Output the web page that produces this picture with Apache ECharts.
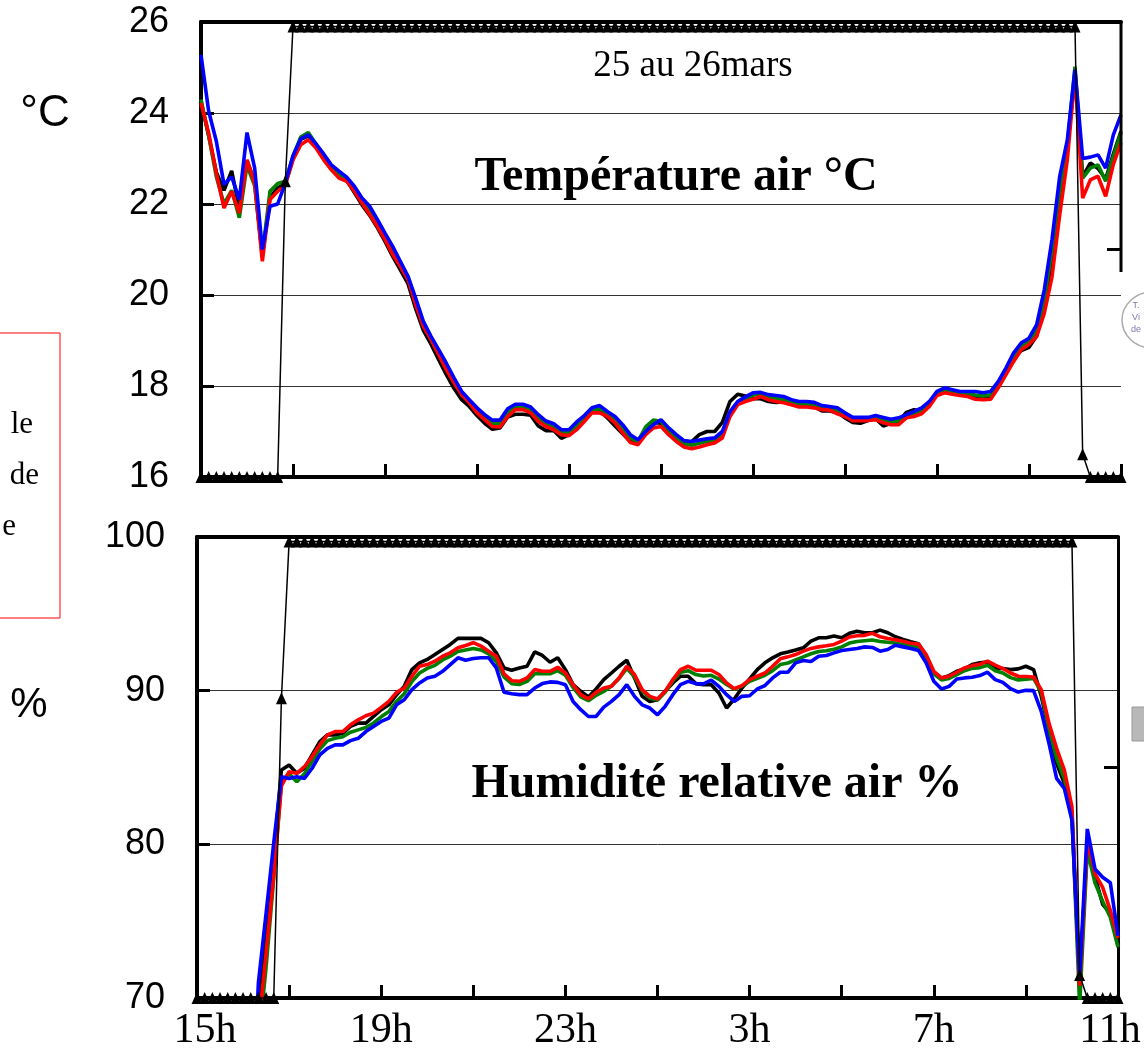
<!DOCTYPE html>
<html>
<head>
<meta charset="utf-8">
<title>Température et humidité air</title>
<script src="https://cdn.jsdelivr.net/npm/echarts/dist/echarts.min.js"></script>
<style>
  html, body { margin: 0; padding: 0; background: #fff; }
  .chart { width: 1144px; height: 1056px; }
</style>
</head>
<body>
<div class="chart"></div>
<script>
// pas de 10 minutes, heures depuis 15h (0 -> 15h, 20 -> 11h)
let times = []
for (let k = 0; k <= 120; k++) {
  times.push(k / 6)
}

let xTickLabels = ['15h', '19h', '23h', '3h', '7h', '11h']

// température air (°C)
let tempBlack = [24.25,23.5,22.7,22.3,22.73,21.9,22.95,22.5,20.85,22.15,22.35,22.45,23.0,23.42,23.5,23.28,23.02,22.8,22.6,22.52,
  22.25,21.98,21.75,21.48,21.18,20.85,20.55,20.25,19.7,19.22,18.92,18.58,18.25,17.95,17.7,17.55,17.35,17.18,17.05,17.08,
  17.32,17.38,17.38,17.36,17.12,17.02,17.02,16.85,16.93,17.1,17.25,17.45,17.45,17.3,17.12,16.95,16.78,16.78,17.05,17.2,
  17.18,16.95,16.82,16.72,16.78,16.93,17.0,17.0,17.2,17.66,17.82,17.78,17.72,17.72,17.66,17.64,17.65,17.6,17.56,17.56,
  17.54,17.45,17.45,17.42,17.3,17.2,17.18,17.24,17.28,17.12,17.18,17.22,17.42,17.48,17.45,17.6,17.82,17.88,17.85,17.82,
  17.8,17.76,17.74,17.78,18.02,18.3,18.6,18.78,18.85,19.1,19.8,20.8,22.0,23.2,24.9,22.6,22.9,22.78,22.55,23.1,23.6]
let tempGreen = [24.3,23.5,22.6,22.0,22.3,21.7,22.85,22.4,20.9,22.28,22.45,22.5,23.05,23.47,23.57,23.32,23.04,22.8,22.63,22.53,
  22.3,22.06,21.85,21.58,21.3,20.98,20.7,20.4,19.86,19.37,19.06,18.74,18.43,18.12,17.85,17.66,17.47,17.31,17.18,17.18,
  17.42,17.55,17.55,17.48,17.3,17.17,17.1,16.98,16.97,17.12,17.28,17.46,17.5,17.4,17.27,17.07,16.86,16.78,17.1,17.25,
  17.22,17.0,16.86,16.74,16.7,16.74,16.78,16.81,16.94,17.4,17.64,17.72,17.8,17.82,17.76,17.73,17.71,17.65,17.6,17.6,
  17.58,17.52,17.51,17.46,17.37,17.28,17.27,17.28,17.3,17.26,17.22,17.23,17.34,17.4,17.46,17.6,17.84,17.91,17.88,17.84,
  17.83,17.8,17.78,17.8,18.04,18.33,18.64,18.88,18.98,19.2,19.9,21.0,22.3,23.3,25.02,22.57,22.79,22.86,22.5,23.05,23.56]
let tempRed = [24.22,23.56,22.68,21.91,22.28,21.8,22.97,22.46,20.74,22.1,22.28,22.42,22.97,23.3,23.41,23.23,22.97,22.75,22.57,22.5,
  22.28,22.02,21.77,21.51,21.22,20.89,20.63,20.34,19.79,19.31,19.02,18.69,18.36,18.07,17.81,17.63,17.41,17.26,17.11,17.1,
  17.33,17.48,17.48,17.41,17.22,17.11,17.04,16.93,16.91,17.04,17.22,17.41,17.41,17.33,17.19,16.97,16.76,16.71,16.93,17.08,
  17.11,16.93,16.78,16.66,16.62,16.66,16.71,16.75,16.86,17.33,17.59,17.66,17.71,17.77,17.7,17.66,17.63,17.59,17.54,17.54,
  17.52,17.48,17.47,17.39,17.33,17.24,17.24,17.24,17.26,17.19,17.15,17.15,17.3,17.33,17.39,17.55,17.79,17.85,17.82,17.79,
  17.77,17.71,17.7,17.71,17.96,18.25,18.54,18.8,18.91,19.09,19.6,20.4,21.75,22.97,24.85,22.13,22.53,22.61,22.17,22.87,23.35]
let tempBlue = [25.28,24.04,23.38,22.43,22.6,22.1,23.57,22.79,21.0,21.95,22.0,22.46,23.06,23.43,23.52,23.32,23.1,22.86,22.72,22.59,
  22.39,22.13,21.95,21.66,21.36,21.07,20.74,20.41,19.93,19.42,19.09,18.8,18.5,18.18,17.88,17.7,17.52,17.37,17.25,17.25,
  17.5,17.6,17.6,17.54,17.37,17.23,17.17,17.04,17.04,17.21,17.35,17.52,17.57,17.44,17.33,17.15,16.93,16.82,17.0,17.15,
  17.26,17.08,16.93,16.8,16.78,16.81,16.84,16.86,17.0,17.44,17.66,17.76,17.85,17.86,17.81,17.79,17.77,17.7,17.66,17.66,
  17.64,17.57,17.55,17.52,17.41,17.31,17.31,17.31,17.35,17.31,17.27,17.3,17.37,17.44,17.52,17.66,17.88,17.96,17.92,17.88,
  17.88,17.88,17.85,17.88,18.1,18.4,18.73,18.95,19.05,19.35,20.12,21.22,22.6,23.41,24.95,23.0,23.03,23.08,22.79,23.52,23.96]

// humidité relative air (%)
let humBlack = [60,60,60,60,60,60,60,60,69.0,74.0,79.3,84.84,85.16,84.62,84.95,85.82,86.69,87.12,87.12,87.23,
  87.67,87.89,87.89,88.32,88.76,89.08,89.74,90.28,91.37,91.81,92.03,92.35,92.68,93.01,93.4,93.4,93.4,93.4,93.12,92.46,
  91.48,91.33,91.48,91.59,92.53,92.29,91.85,92.14,91.37,90.39,89.96,89.59,90.11,90.72,91.15,91.59,91.98,90.83,89.63,89.3,
  89.41,89.96,90.5,90.94,90.94,90.46,90.39,90.39,89.85,88.87,89.46,90.17,90.76,91.37,91.81,92.14,92.4,92.51,92.64,92.79,
  93.22,93.44,93.44,93.55,93.44,93.73,93.86,93.77,93.77,93.94,93.77,93.51,93.33,93.18,93.05,92.29,91.15,90.83,90.98,91.26,
  91.42,91.7,91.81,91.87,91.48,91.44,91.37,91.42,91.59,91.37,89.63,87.45,85.27,83.97,81.79,71.0,80.0,77.9,76.1,75.5,73.5]
let humGreen = [60,60,60,60,60,60,60,60,67.0,72.0,77.8,84.1,84.6,84.07,84.6,85.4,86.2,86.75,86.9,87.0,
  87.3,87.45,87.6,87.9,88.3,88.65,89.3,89.8,90.6,91.15,91.45,91.65,92.0,92.25,92.55,92.65,92.75,92.65,92.4,91.9,
  90.9,90.45,90.4,90.6,91.1,91.1,91.1,91.3,91.0,90.2,89.6,89.35,89.7,89.95,90.3,90.8,91.45,90.9,90.0,89.5,
  89.4,89.9,90.65,91.2,91.3,91.05,90.95,91.0,90.75,90.4,90.1,90.3,90.6,90.8,91.0,91.3,91.7,91.8,92.0,92.2,
  92.4,92.55,92.6,92.7,92.85,93.1,93.2,93.25,93.3,93.2,93.15,93.1,93.0,92.9,92.85,92.2,91.1,90.7,90.8,91.05,
  91.3,91.45,91.5,91.65,91.3,91.15,90.85,90.7,90.75,90.8,89.9,87.5,85.6,84.3,82.0,69.5,79.6,77.5,76.3,75.25,73.3]
let humRed = [60,60,60,60,60,60,60,60,68.0,72.9,78.0,83.8,84.73,84.62,85.05,85.71,86.47,87.12,87.34,87.34,
  87.78,88.1,88.37,88.54,88.91,89.3,89.89,90.17,90.94,91.59,91.7,91.92,92.24,92.46,92.79,92.94,93.12,92.9,92.57,92.24,
  91.1,90.65,90.61,90.83,91.37,91.26,91.26,91.52,91.15,90.39,89.74,89.46,89.89,90.17,90.28,90.83,91.59,91.05,90.07,89.63,
  89.46,89.96,90.72,91.37,91.59,91.33,91.33,91.33,91.05,90.5,90.13,90.33,90.72,90.94,91.15,91.59,92.07,92.2,92.35,92.57,
  92.75,92.85,92.92,93.01,93.22,93.49,93.57,93.6,93.73,93.51,93.4,93.31,93.22,93.09,93.03,92.35,91.26,90.83,90.94,91.2,
  91.48,91.63,91.72,91.92,91.66,91.44,91.15,90.94,90.92,90.89,90.07,87.89,86.25,84.84,82.44,70.8,80.3,78.1,77.2,75.7,73.9]
let humBlue = [60,60,60,60,60,60,60,60,71.0,75.5,80.1,84.4,84.29,84.4,84.29,84.95,85.82,86.25,86.47,86.47,
  86.75,86.9,87.34,87.67,88.0,88.21,89.08,89.41,90.07,90.5,90.83,90.94,91.26,91.7,92.14,91.98,92.09,92.14,92.14,91.48,
  89.9,89.8,89.74,89.74,90.17,90.46,90.57,90.54,90.39,89.3,88.76,88.32,88.32,88.93,89.3,89.74,90.39,89.63,89.08,88.87,
  88.43,88.98,89.74,90.39,90.61,90.46,90.44,90.68,90.28,89.74,89.3,89.63,89.67,90.11,90.33,90.83,91.2,91.2,91.81,91.96,
  91.9,92.24,92.29,92.46,92.61,92.68,92.75,92.85,92.81,92.57,92.68,92.96,92.85,92.75,92.61,91.81,90.61,90.11,90.28,90.76,
  90.83,90.87,90.98,91.2,90.72,90.54,90.13,89.91,90.02,90.0,88.65,86.58,84.29,83.64,81.57,71.4,81.0,78.4,77.86,77.5,74.05]

// état (triangles) sur l'axe secondaire 0..1
let etat = [0,0,0,0,0,0,0,0,0,0,0,0.65,
  0.99,0.99,0.99,0.99,0.99,0.99,0.99,0.99,0.99,0.99,0.99,0.99,0.99,0.99,0.99,0.99,0.99,0.99,0.99,0.99,
  0.99,0.99,0.99,0.99,0.99,0.99,0.99,0.99,0.99,0.99,0.99,0.99,0.99,0.99,0.99,0.99,0.99,0.99,0.99,0.99,
  0.99,0.99,0.99,0.99,0.99,0.99,0.99,0.99,0.99,0.99,0.99,0.99,0.99,0.99,0.99,0.99,0.99,0.99,0.99,0.99,
  0.99,0.99,0.99,0.99,0.99,0.99,0.99,0.99,0.99,0.99,0.99,0.99,0.99,0.99,0.99,0.99,0.99,0.99,0.99,0.99,
  0.99,0.99,0.99,0.99,0.99,0.99,0.99,0.99,0.99,0.99,0.99,0.99,0.99,0.99,0.99,0.99,0.99,0.99,0.99,0.99,
  0.99,0.99,0.99,
  0.05,0,0,0,0,0]

let tempTicks = [16, 18, 20, 22, 24, 26]
let humTicks = [70, 80, 90, 100]

function pairs(values) {
  return times.map((t, k) => [t, values[k]])
}

function curve(name, color, values, xi, yi) {
  return {
    name: name,
    type: 'line',
    xAxisIndex: xi,
    yAxisIndex: yi,
    data: pairs(values),
    showSymbol: false,
    symbol: 'none',
    lineStyle: { color: color, width: 3.6 },
    itemStyle: { color: color },
    z: 3
  }
}

function etatSerie(xi, yi) {
  return {
    name: 'etat',
    type: 'line',
    xAxisIndex: xi,
    yAxisIndex: yi,
    data: pairs(etat),
    symbol: 'triangle',
    symbolSize: [11, 12],
    showAllSymbol: true,
    clip: false,
    lineStyle: { color: '#000', width: 1.5 },
    itemStyle: { color: '#000' },
    z: 5
  }
}

let axisBlack = { show: true, onZero: false, lineStyle: { color: '#000', width: 4 } }
let tickIn = { show: true, inside: true, length: 13, lineStyle: { color: '#000', width: 3 } }
let grille = { show: true, lineStyle: { color: '#333', width: 1 } }

function xBas(gi, withLabels) {
  return {
    type: 'value', gridIndex: gi, position: 'bottom',
    min: 0, max: 20, interval: 2,
    axisLine: axisBlack, axisTick: tickIn, splitLine: { show: false },
    axisLabel: {
      show: withLabels, margin: 12, color: '#000',
      fontFamily: 'Liberation Serif', fontSize: 42,
      showMinLabel: true, showMaxLabel: true,
      formatter: function (v) {
        if (v % 4 !== 0) return ''
        // premier et dernier libellés un peu rentrés comme sur l'original
        if (v === 0) return '{first|' + xTickLabels[0] + '}'
        if (v === 20) return '{last|' + xTickLabels[5] + '}'
        return xTickLabels[v / 4]
      },
      rich: {
        first: { fontFamily: 'Liberation Serif', fontSize: 42, color: '#000', padding: [0, 0, 0, 16] },
        last: { fontFamily: 'Liberation Serif', fontSize: 42, color: '#000', padding: [0, 16, 0, 0] }
      }
    }
  }
}

function xHaut(gi) {
  return {
    type: 'value', gridIndex: gi, position: 'top',
    min: 0, max: 20,
    axisLine: axisBlack, axisTick: { show: false },
    axisLabel: { show: false }, splitLine: { show: false }
  }
}

function yGauche(gi, ticks) {
  return {
    type: 'value', gridIndex: gi, position: 'left',
    min: ticks[0], max: ticks[ticks.length - 1], interval: ticks[1] - ticks[0],
    axisLine: axisBlack, axisTick: tickIn, splitLine: grille,
    axisLabel: { color: '#000', fontFamily: 'Liberation Sans', fontSize: 36, margin: 32 }
  }
}

function yDroite(gi, lineShown) {
  return {
    type: 'value', gridIndex: gi, position: 'right',
    min: 0, max: 1, interval: 0.5,
    axisLine: { show: lineShown, onZero: false, lineStyle: { color: '#000', width: 3 } },
    axisTick: { show: true, inside: true, length: 14, lineStyle: { color: '#000', width: 3 } },
    axisLabel: { show: false }, splitLine: { show: false }
  }
}

function texte(str, x, y, font, align, color) {
  return {
    type: 'text', z: 10,
    style: {
      text: str, x: x, y: y, font: font,
      textAlign: align, textVerticalAlign: 'middle',
      align: align, verticalAlign: 'middle',
      fill: color || '#000'
    }
  }
}

let option = {
  animation: false,
  backgroundColor: '#fff',
  grid: [
    { left: 201, top: 22, width: 920, height: 455, outerBoundsMode: 'none' },
    { left: 197, top: 537, width: 921, height: 461, outerBoundsMode: 'none' }
  ],
  xAxis: [xBas(0, false), xHaut(0), xBas(1, true), xHaut(1)],
  yAxis: [yGauche(0, tempTicks), yDroite(0, false), yGauche(1, humTicks), yDroite(1, true)],
  series: [
    curve('noir', '#000000', tempBlack, 0, 0),
    curve('vert', '#008000', tempGreen, 0, 0),
    curve('rouge', '#ff0000', tempRed, 0, 0),
    curve('bleu', '#0000ff', tempBlue, 0, 0),
    etatSerie(0, 1),
    curve('noir', '#000000', humBlack, 2, 2),
    curve('vert', '#008000', humGreen, 2, 2),
    curve('rouge', '#ff0000', humRed, 2, 2),
    curve('bleu', '#0000ff', humBlue, 2, 2),
    etatSerie(2, 3)
  ],
  graphic: [
    // bord droit partiel du graphe du haut
    { type: 'polyline', z: 6, shape: { points: [[1121, 22], [1121, 272]] }, style: { stroke: '#000', lineWidth: 3 } },
    texte('25 au 26mars', 693, 66, '37px "Liberation Serif"', 'center'),
    texte('Température air °C', 676, 178, 'bold 48px "Liberation Serif"', 'center'),
    texte('Humidité relative air %', 717, 785, 'bold 48px "Liberation Serif"', 'center'),
    texte('°C', 45, 114, '44px "Liberation Sans"', 'center'),
    texte('%', 29, 705, '42px "Liberation Sans"', 'center'),
    // cadre rouge coupé à gauche
    { type: 'rect', shape: { x: -10, y: 333, width: 70, height: 285 }, style: { fill: 'none', stroke: '#ff0000', lineWidth: 1 } },
    texte('le', 33, 425, '31px "Liberation Serif"', 'right'),
    texte('de', 39, 476, '31px "Liberation Serif"', 'right'),
    texte('e', 16, 527, '31px "Liberation Serif"', 'right'),
    // éléments coupés à droite
    { type: 'ellipse', shape: { cx: 1152, cy: 320, rx: 30, ry: 28 }, style: { fill: '#fff', stroke: '#aaa', lineWidth: 1.5 } },
    texte('T.', 1136, 306, '9px "Liberation Sans"', 'center', '#7a7ab0'),
    texte('Vi', 1136, 318, '9px "Liberation Sans"', 'center', '#7a7ab0'),
    texte('de', 1136, 330, '9px "Liberation Sans"', 'center', '#7a7ab0'),
    { type: 'rect', shape: { x: 1132, y: 707, width: 14, height: 34 }, style: { fill: '#b8b8b8', stroke: '#999', lineWidth: 1 } }
  ]
}

let myChart = echarts.init(document.querySelector('.chart'))
myChart.setOption(option)
</script>
</body>
</html>
